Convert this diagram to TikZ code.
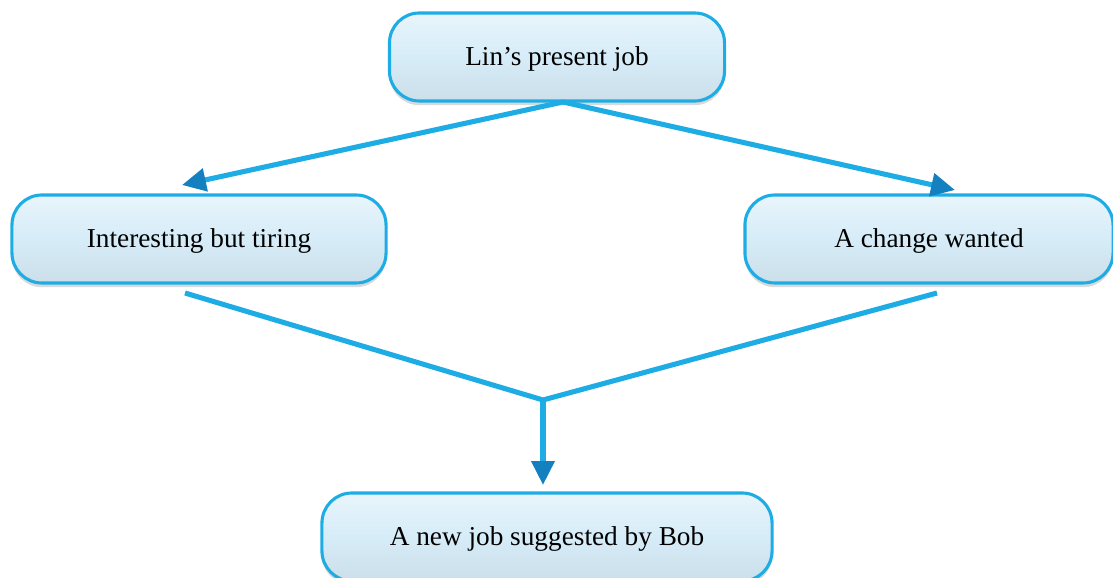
\documentclass[tikz,border=0pt]{standalone}
\usepackage{fontspec}
\setmainfont{Liberation Serif}
\usetikzlibrary{arrows.meta,calc,shadows}
\definecolor{lineblue}{RGB}{30,172,228}
\definecolor{tipblue}{RGB}{20,128,192}
\definecolor{boxfill}{RGB}{214,236,248}
\tikzset{
  jobbox/.style={draw=lineblue, line width=2.2pt, rounded corners=0.75cm,
    top color=boxfill!55, bottom color=boxfill!88!gray, middle color=boxfill,
    drop shadow={shadow xshift=0pt, shadow yshift=-3pt, opacity=0.3},
    minimum height=2.2cm, text height=12.8pt, text depth=0pt,
    font=\fontsize{19.4}{23}\selectfont, text=black},
  link/.style={draw=lineblue, line width=3.6pt},
  tip/.style={link, -{Triangle[length=17pt,width=16pt,fill=tipblue,color=tipblue]}}
}
\begin{document}
\begin{tikzpicture}[x=0.025cm,y=0.025cm]
\useasboundingbox (0,0) rectangle (1113,578);
\node[jobbox, minimum width=8.375cm] (T) at (557,521){Lin’s present job};
\node[jobbox, minimum width=9.35cm] (L) at (199,339){Interesting but tiring};
\node[jobbox, minimum width=9.2cm] (R) at (929,339){A change wanted};
\node[jobbox, minimum width=11.25cm] (B) at (547,41){A new job suggested by Bob};
\coordinate (S) at (563,476);
\coordinate (LT) at (182,393);
\coordinate (RT) at (955,388);
\coordinate (LB) at (185,285);
\coordinate (RB) at (937,285);
\coordinate (J) at (543,178);
\coordinate (BT) at (543,93);
\draw[tip] (S) -- (LT);
\draw[tip] (S) -- (RT);
\draw[link, line join=miter] (LB) -- (J) -- (RB);
\draw[tip] (J) -- (BT);
\end{tikzpicture}
\end{document}
